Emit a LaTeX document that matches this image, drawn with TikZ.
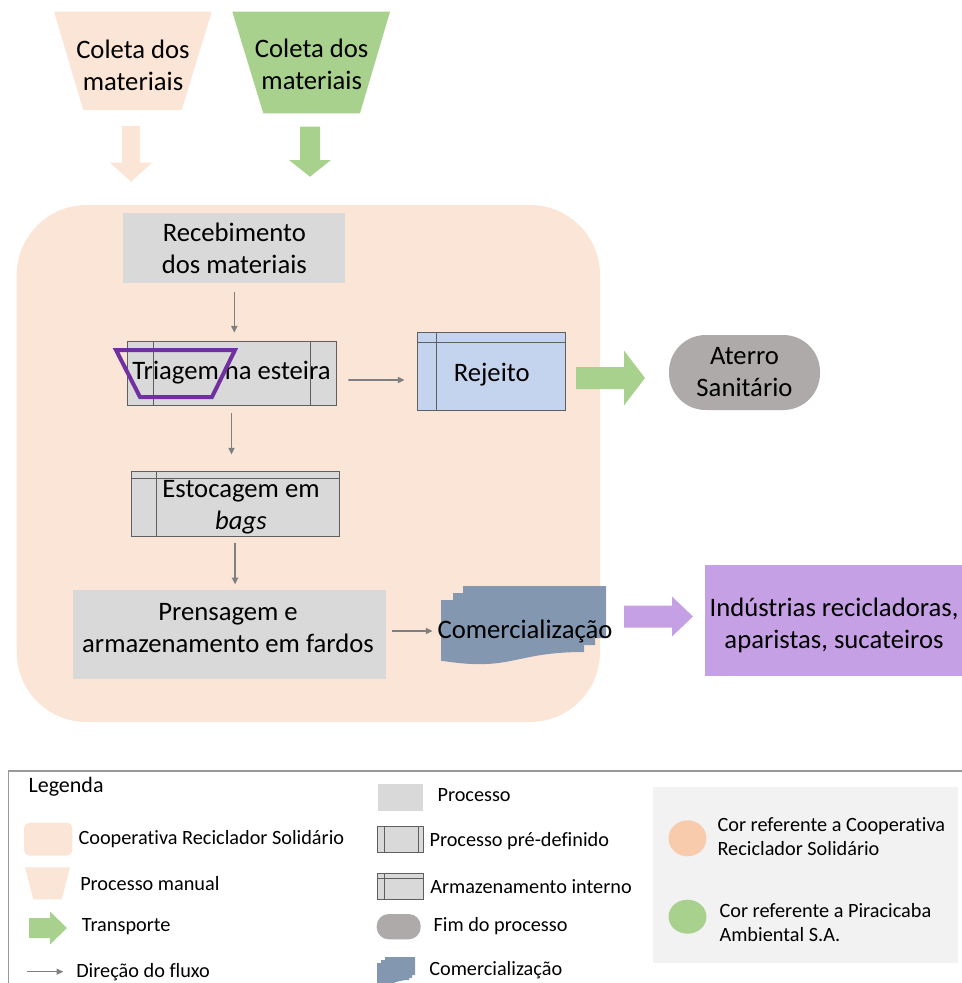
\documentclass[tikz,border=0pt]{standalone}
\usepackage{fontspec}
\setmainfont{Carlito}[Ligatures=NoCommon]
\usetikzlibrary{arrows.meta,calc}
\definecolor{peach}{HTML}{FBE5D6}
\definecolor{peachdark}{HTML}{F8CBAD}
\definecolor{grn}{HTML}{A9D18E}
\definecolor{procgray}{HTML}{D9D9D9}
\definecolor{endgray}{HTML}{AEAAAA}
\definecolor{rejblue}{HTML}{C5D4EE}
\definecolor{comblue}{HTML}{8497B0}
\definecolor{purp}{HTML}{C6A0E4}
\definecolor{purpline}{HTML}{7030A0}
\definecolor{arrgray}{HTML}{7F7F7F}
\definecolor{panel}{HTML}{F2F2F2}
\definecolor{edge}{HTML}{5F5F5F}
\begin{document}
\begin{tikzpicture}[x=0.75pt,y=-0.75pt,
  main/.style={font=\fontsize{20}{24}\selectfont, align=center, text=black},
  leg/.style={font=\fontsize{15.2}{17.5}\selectfont, anchor=west, inner sep=0, align=left},
  proc/.style={fill=procgray, inner sep=0},
  boxed/.style={draw=edge, line width=0.6pt},
  flow/.style={draw=arrgray, line width=1.2pt, -{Triangle[length=5pt,width=4.5pt]}},
]
\useasboundingbox (0,0) rectangle (962,983);
\clip (0,0) rectangle (962,983);

% cooperative area
\fill[peach, rounded corners=52.5pt] (16.7,205) rectangle (600,722);

% Coleta trapezoids
\fill[peach] (54,11.7) -- (211.7,11.7) -- (181.7,110) -- (83.3,110) -- cycle;
\node[main] (col1) at (133,65) {Coleta dos\\materiais};
\fill[grn] (232.3,11.7) -- (390,11.7) -- (360,113.3) -- (263.3,113.3) -- cycle;
\node[main] (col2) at (311.7,64.7) {Coleta dos\\materiais};

% down block arrows
\fill[peach] (122,126) -- (140,126) -- (140,162.7) -- (152,162.7) -- (131,181.7) -- (110,162.7) -- (122,162.7) -- cycle;
\fill[grn] (300,126.7) -- (320,126.7) -- (320,160) -- (331,160) -- (310,176.7) -- (289,160) -- (300,160) -- cycle;

% process boxes
\node[proc, main, minimum width=166.5pt, minimum height=52.5pt] (rec) at (234.3,248) {Recebimento\\dos materiais};

\node[proc, boxed, main, minimum width=156.75pt, minimum height=48pt] (tri) at (231.5,373) {Triagem na esteira};
\draw[edge, line width=0.6pt] ($(tri.north west)+(26.6,0)$) -- ($(tri.south west)+(26.6,0)$);
\draw[edge, line width=0.6pt] ($(tri.north east)+(-26.4,0)$) -- ($(tri.south east)+(-26.4,0)$);
\draw[purpline, line width=3pt] (116,350) -- (235,350) -- (212,397) -- (140,397) -- cycle;

\node[fill=rejblue, boxed, inner sep=0, minimum width=111pt, minimum height=58.5pt] (rej) at (491,371.7) {};
\draw[edge, line width=0.6pt] ($(rej.north west)+(0,10)$) -- ($(rej.north east)+(0,10)$);
\draw[edge, line width=0.6pt] ($(rej.north west)+(19.3,0)$) -- ($(rej.south west)+(19.3,0)$);
\node[main] (rejt) at (491.7,375) {Rejeito};

% green block arrow to Aterro
\fill[grn] (576,367) -- (624,367) -- (624,350.5) -- (645,378) -- (624,405.5) -- (624,389) -- (576,389) -- cycle;

\node[fill=endgray, main, inner sep=0, minimum width=113.25pt, minimum height=56.25pt, rounded corners=27.5pt] (ate) at (744.5,372.5) {Aterro\\Sanitário};

\node[proc, boxed, minimum width=156pt, minimum height=48.75pt] (est) at (235,503.5) {};
\draw[edge, line width=0.6pt] ($(est.north west)+(0,7.3)$) -- ($(est.north east)+(0,7.3)$);
\draw[edge, line width=0.6pt] ($(est.north west)+(25.7,0)$) -- ($(est.south west)+(25.7,0)$);
\node[main] (estt) at (241,507) {Estocagem em\\\textit{bags}};

\node[proc, minimum width=234.75pt, minimum height=66.75pt] (pren) at (229.3,634.5) {};
\node[main] (prent) at (228,628) {Prensagem e\\armazenamento em fardos};

% Comercializacao (multi-document)
\fill[comblue] (463,586) -- (606,586) -- (606,638) .. controls (534.5,638) and (534.5,658) .. (463,646.7) -- cycle;
\fill[comblue] (453,593) -- (595,593) -- (595,645) .. controls (524,645) and (524,665) .. (453,653.7) -- cycle;
\fill[comblue] (441,600) -- (584,600) -- (584,652) .. controls (512.5,652) and (512.5,672) .. (441,660.7) -- cycle;
\node[main, inner sep=0] (com) at (525,631) {Comercialização};

% purple block arrow
\fill[purp] (624,605.5) -- (672,605.5) -- (672,596.5) -- (693,616.5) -- (672,636.5) -- (672,627.5) -- (624,627.5) -- cycle;

\fill[purp] (705,565) rectangle (975,676);
\node[main] (ind) at (834,625.4) {Indústrias recicladoras,\\aparistas, sucateiros};

% flow arrows
\draw[flow, shorten <=6.75pt, shorten >=6pt] (rec.south) -- (rec.south |- tri.north);
\draw[flow, shorten <=6pt, shorten >=12pt] (tri.south) -- (tri.south |- est.north);
\draw[flow, shorten <=5pt, shorten >=4pt] (est.south) -- (est.south |- pren.north);
\draw[flow, shorten <=9pt, shorten >=9pt] ($(tri.east)+(0,7)$) -- ($(rej.west)+(0,8.3)$);
\draw[flow, shorten <=4.5pt, shorten >=3.5pt] (pren.east |- com.west) -- (com.west);

% legend
\draw[gray!80, line width=0.8pt] (8.3,771) rectangle (975,1000);
\node[leg, font=\fontsize{16.5}{19}\selectfont] (lg0) at (28.3,786.7) {Legenda};

\fill[peach, rounded corners=4pt] (24,822.7) rectangle (72.3,855.7);
\node[leg] (lg1) at (78.3,839) {Cooperativa Reciclador Solidário};
\fill[peach] (25,867.3) -- (70,867.3) -- (61.7,899.3) -- (33.3,899.3) -- cycle;
\node[leg] (lg2) at (80,883.3) {Processo manual};
\fill[grn] (29,918) -- (50,918) -- (50,911.5) -- (67,928) -- (50,944.5) -- (50,938) -- (29,938) -- cycle;
\node[leg] (lg3) at (81.7,926.7) {Transporte};
\coordinate (fa) at (27.3,971.7);
\coordinate (fb) at (63.3,971.7);
\draw[flow, line width=0.9pt] (fa) -- (fb);
\node[leg] (lg4) at (76,971.7) {Direção do fluxo};

\fill[procgray] (378.3,784) rectangle (423.3,810.7);
\node[leg] (lm1) at (437.3,795) {Processo};
\draw[boxed, fill=procgray] (377.3,826.7) rectangle (423.3,852.7);
\draw[edge, line width=0.5pt] (384,826.7) -- (384,852.7) (418.3,826.7) -- (418.3,852.7);
\node[leg] (lm2) at (429.3,841) {Processo pré-definido};
\draw[boxed, fill=procgray] (377.3,873.3) rectangle (423.3,899.3);
\draw[edge, line width=0.5pt] (377.3,878.3) -- (423.3,878.3) (384,873.3) -- (384,899.3);
\node[leg] (lm3) at (430,886.7) {Armazenamento interno};
\fill[endgray, rounded corners=9pt] (376.7,914) rectangle (420.7,939.3);
\node[leg] (lm4) at (433.3,926) {Fim do processo};
\fill[comblue] (385,957) -- (415,957) -- (415,975) .. controls (400,975) and (400,982) .. (385,980) -- cycle;
\fill[comblue] (381,960) -- (412,960) -- (412,978) .. controls (396,978) and (396,985) .. (381,983) -- cycle;
\fill[comblue] (377,963) -- (409,963) -- (409,980) .. controls (393,980) and (393,987) .. (377,985) -- cycle;
\node[leg] (lm5) at (429,970) {Comercialização};

\fill[panel] (653.3,786.7) rectangle (958.3,963.3);
\fill[peachdark] (687.5,838.3) ellipse [x radius=19, y radius=18];
\node[leg] (lr1) at (717.3,836.7) {Cor referente a Cooperativa\\Reciclador Solidário};
\fill[grn] (687.5,916.7) ellipse [x radius=19, y radius=17];
\node[leg] (lr2) at (719.3,922.5) {Cor referente a Piracicaba\\Ambiental S.A.};
\end{tikzpicture}
\end{document}
